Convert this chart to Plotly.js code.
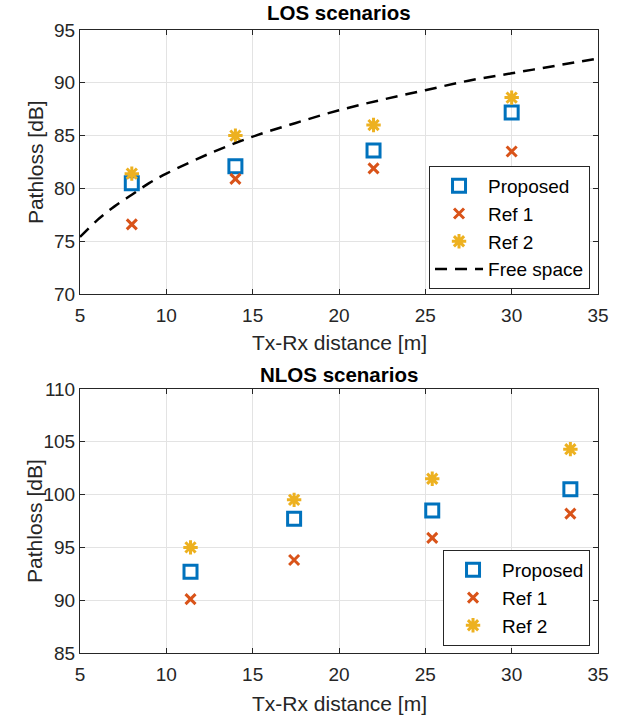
<!DOCTYPE html>
<html>
<head>
<meta charset="utf-8">
<script src="https://cdn.plot.ly/plotly-3.0.1.min.js"></script>
<style>html,body{margin:0;padding:0;background:#fff;}#chart{width:628px;height:719px;}</style>
</head>
<body>
<div id="chart"></div>
<script>
// LOS data
const losDist = [8, 14, 22, 30];
const losProposed = [80.5, 82.1, 83.6, 87.2];
const losRef1 = [76.6, 80.9, 81.9, 83.5];
const losRef2 = [81.4, 85.0, 86.0, 88.6];
// Free space curve
const fsDist = [5, 6, 7, 8, 9, 10, 12.5, 15, 17.5, 20, 22.5, 25, 27.5, 30, 32.5, 35];
const fsLoss = [75.4, 77.0, 78.3, 79.4, 80.5, 81.4, 83.3, 84.9, 86.2, 87.4, 88.4, 89.3, 90.2, 90.9, 91.6, 92.3];
// NLOS data
const nlosDist = [11.4, 17.4, 25.4, 33.4];
const nlosProposed = [92.7, 97.7, 98.5, 100.5];
const nlosRef1 = [90.1, 93.8, 95.9, 98.2];
const nlosRef2 = [95.0, 99.5, 101.5, 104.3];

const cBlue = '#0072BD', cRed = '#D95319', cYel = '#EDB120';
const FONT = 'Liberation Sans, Arial, Helvetica, sans-serif';

function mk(x, y, name, sym, color, size, xa, ya, leg) {
  return {x: x, y: y, name: name, type: 'scatter', mode: 'markers', xaxis: xa, yaxis: ya, legend: leg,
    marker: {symbol: sym, size: size, color: color, line: {color: color, width: 3}}};
}

const traces = [
  mk(losDist, losProposed, 'Proposed', 'square-open', cBlue, 13, 'x', 'y', 'legend'),
  mk(losDist, losRef1, 'Ref 1', 'x-thin', cRed, 10, 'x', 'y', 'legend'),
  mk(losDist, losRef2, 'Ref 2', 'asterisk-open', cYel, 12, 'x', 'y', 'legend'),
  {x: fsDist, y: fsLoss, name: 'Free space', type: 'scatter', mode: 'lines', xaxis: 'x', yaxis: 'y', legend: 'legend',
    line: {color: '#000', width: 2.5, dash: '12px,8px', shape: 'spline'}},
  mk(nlosDist, nlosProposed, 'Proposed', 'square-open', cBlue, 13, 'x2', 'y2', 'legend2'),
  mk(nlosDist, nlosRef1, 'Ref 1', 'x-thin', cRed, 10, 'x2', 'y2', 'legend2'),
  mk(nlosDist, nlosRef2, 'Ref 2', 'asterisk-open', cYel, 12, 'x2', 'y2', 'legend2')
];

const axBase = {
  showline: true, linecolor: '#262626', linewidth: 1, mirror: 'ticks',
  ticks: 'inside', ticklen: 5, tickcolor: '#262626', tickwidth: 1,
  showgrid: true, gridcolor: '#e3e3e3', gridwidth: 1, zeroline: false,
  tickfont: {family: FONT, size: 19, color: '#262626'}
};
const xBase = Object.assign({}, axBase, {ticklabelstandoff: 4});

const legBase = {
  bgcolor: '#fff', bordercolor: '#262626', borderwidth: 1,
  font: {family: FONT, size: 19, color: '#000'}, xanchor: 'right', yanchor: 'bottom',
  tracegroupgap: 0, itemwidth: 48
};

const layout = {
  width: 628, height: 719,
  margin: {l: 80, r: 30, t: 30, b: 66},
  paper_bgcolor: '#fff', plot_bgcolor: '#fff',
  xaxis: Object.assign({}, xBase, {domain: [0, 1], range: [5, 35], dtick: 5, anchor: 'y'}),
  yaxis: Object.assign({}, axBase, {domain: [0.5762, 1], range: [70, 95], dtick: 5, anchor: 'x'}),
  xaxis2: Object.assign({}, xBase, {domain: [0, 1], range: [5, 35], dtick: 5, anchor: 'y2'}),
  yaxis2: Object.assign({}, axBase, {domain: [0, 0.4238], range: [85, 110], dtick: 5, anchor: 'x2'}),
  legend: Object.assign({}, legBase, {x: 0.9846, y: 0.5843}),
  legend2: Object.assign({}, legBase, {x: 0.9846, y: 0.0112}),
  annotations: [
    {text: '<b>LOS scenarios</b>', xref: 'paper', yref: 'paper', x: 0.5, y: 1.0273, showarrow: false, yanchor: 'middle', font: {family: FONT, size: 20.5, color: '#000'}},
    {text: '<b>NLOS scenarios</b>', xref: 'paper', yref: 'paper', x: 0.5, y: 0.4478, showarrow: false, yanchor: 'middle', font: {family: FONT, size: 20.5, color: '#000'}},
    {text: 'Tx-Rx distance [m]', xref: 'paper', yref: 'paper', x: 0.5, y: 0.4976, showarrow: false, yanchor: 'middle', font: {family: FONT, size: 21, color: '#262626'}},
    {text: 'Tx-Rx distance [m]', xref: 'paper', yref: 'paper', x: 0.5, y: -0.0803, showarrow: false, yanchor: 'middle', font: {family: FONT, size: 21, color: '#262626'}},
    {text: 'Pathloss [dB]', xref: 'paper', yref: 'paper', x: -0.0869, y: 0.788, showarrow: false, textangle: -90, xanchor: 'center', yanchor: 'middle', font: {family: FONT, size: 21, color: '#262626'}},
    {text: 'Pathloss [dB]', xref: 'paper', yref: 'paper', x: -0.0869, y: 0.2119, showarrow: false, textangle: -90, xanchor: 'center', yanchor: 'middle', font: {family: FONT, size: 21, color: '#262626'}}
  ]
};

Plotly.newPlot('chart', traces, layout, {displayModeBar: false, staticPlot: true});
</script>
</body>
</html>
